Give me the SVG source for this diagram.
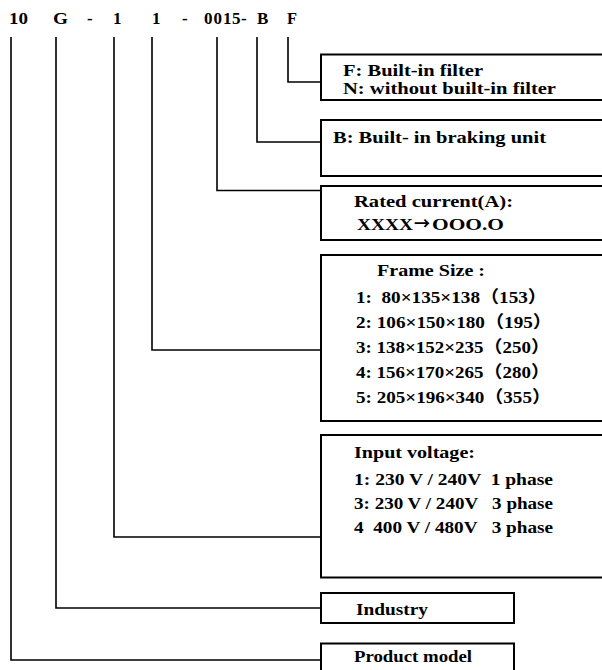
<svg xmlns="http://www.w3.org/2000/svg" width="602" height="670" viewBox="0 0 602 670" xml:space="preserve">
<style>
text{font-family:"Liberation Serif","Noto Sans CJK SC",serif;font-weight:bold;font-size:17px;fill:#000;white-space:pre}
.box{fill:#fff;stroke:#000;stroke-width:2}
.con{fill:none;stroke:#000;stroke-width:1.6}
.arr{font-family:"Noto Sans CJK SC",sans-serif;font-weight:bold}
</style>
<rect width="602" height="670" fill="#fff"/>
<g id="code">
<text y="24"><tspan x="9" textLength="19" lengthAdjust="spacingAndGlyphs">10</tspan><tspan x="53" textLength="15" lengthAdjust="spacingAndGlyphs">G</tspan><tspan x="87">-</tspan><tspan x="113">1</tspan><tspan x="152">1</tspan><tspan x="182">-</tspan><tspan x="204 213.5 223 232 241 257">0015-B</tspan><tspan x="287" textLength="10" lengthAdjust="spacingAndGlyphs">F</tspan></text>
</g>
<g id="connectors">
<path class="con" d="M288 37V82H321"/>
<path class="con" d="M257 37V142H321"/>
<path class="con" d="M217 37V190.5H321"/>
<path class="con" d="M152 37V350H321"/>
<path class="con" d="M114 37V537H321"/>
<path class="con" d="M56 37V608H321"/>
<path class="con" d="M11 37V660H321"/>
</g>
<g id="filter">
<rect class="box" x="321" y="54.5" width="300" height="45.5"/>
<text x="343" y="75.5" textLength="140" lengthAdjust="spacingAndGlyphs">F: Built-in filter</text>
<text x="343" y="94" textLength="213" lengthAdjust="spacingAndGlyphs">N: without built-in filter</text>
</g>
<g id="braking">
<rect class="box" x="321" y="120" width="300" height="56"/>
<text x="333" y="143" textLength="213" lengthAdjust="spacingAndGlyphs">B: Built- in braking unit</text>
</g>
<g id="current">
<rect class="box" x="321" y="186" width="300" height="54"/>
<text x="354" y="206.5" textLength="159" lengthAdjust="spacingAndGlyphs">Rated current(A):</text>
<text y="230"><tspan x="357" textLength="56" lengthAdjust="spacingAndGlyphs">XXXX</tspan><tspan x="414" class="arr" textLength="16" lengthAdjust="spacingAndGlyphs">→</tspan><tspan x="432" textLength="72" lengthAdjust="spacingAndGlyphs">OOO.O</tspan></text>
</g>
<g id="frame">
<rect class="box" x="321" y="255" width="300" height="166"/>
<text x="377" y="276" textLength="108" lengthAdjust="spacingAndGlyphs">Frame Size :</text>
<text x="356" y="303" textLength="191" lengthAdjust="spacingAndGlyphs">1:  80×135×138（153）</text>
<text x="356" y="328" textLength="196" lengthAdjust="spacingAndGlyphs">2: 106×150×180（195）</text>
<text x="356" y="353" textLength="194" lengthAdjust="spacingAndGlyphs">3: 138×152×235（250）</text>
<text x="356" y="378" textLength="194" lengthAdjust="spacingAndGlyphs">4: 156×170×265（280）</text>
<text x="356" y="403" textLength="195" lengthAdjust="spacingAndGlyphs">5: 205×196×340（355）</text>
</g>
<g id="voltage">
<rect class="box" x="321" y="435" width="300" height="142.5"/>
<text x="354" y="458" textLength="121" lengthAdjust="spacingAndGlyphs">Input voltage:</text>
<text x="354" y="485" textLength="199" lengthAdjust="spacingAndGlyphs">1: 230 V / 240V  1 phase</text>
<text x="354" y="509" textLength="199" lengthAdjust="spacingAndGlyphs">3: 230 V / 240V   3 phase</text>
<text x="354" y="532.5" textLength="199" lengthAdjust="spacingAndGlyphs">4  400 V / 480V   3 phase</text>
</g>
<g id="industry">
<rect class="box" x="321" y="593" width="193" height="30"/>
<text x="356" y="615" textLength="72" lengthAdjust="spacingAndGlyphs">Industry</text>
</g>
<g id="product">
<rect class="box" x="321" y="643.5" width="193" height="40"/>
<text x="354" y="661.5" textLength="118" lengthAdjust="spacingAndGlyphs">Product model</text>
</g>
</svg>
